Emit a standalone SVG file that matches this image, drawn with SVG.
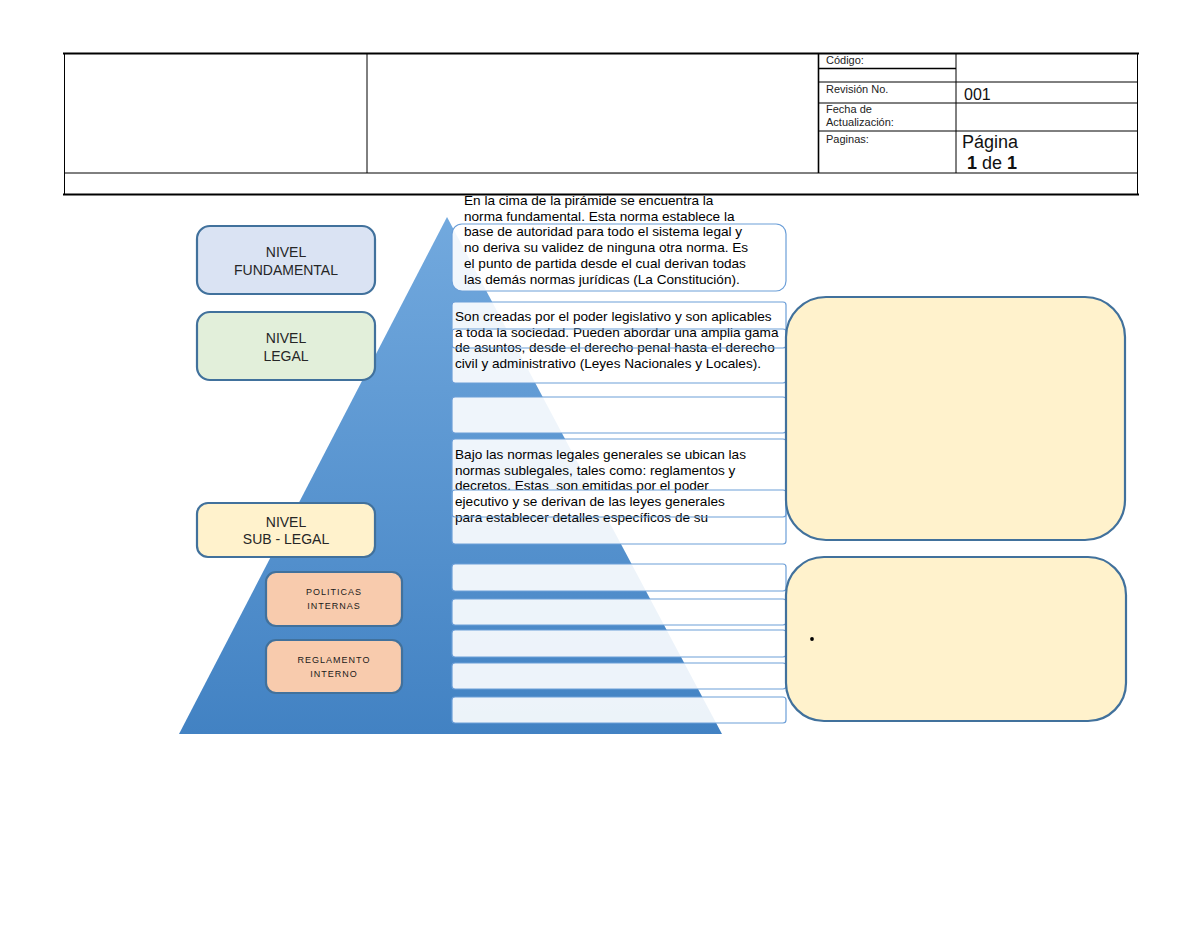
<svg xmlns="http://www.w3.org/2000/svg" width="1200" height="927" viewBox="0 0 1200 927">
<defs>
<linearGradient id="pyr" x1="0" y1="0" x2="0" y2="1">
<stop offset="0" stop-color="#72a9de"/>
<stop offset="1" stop-color="#4282c3"/>
</linearGradient>
<clipPath id="clip4"><rect x="440" y="430" width="360" height="104"/></clipPath>
</defs>
<style>
.hl{stroke:#000;stroke-width:1;fill:none}
.ht{font-family:"Liberation Sans",Arial,sans-serif;font-size:11px;fill:#222}
.hb{font-family:"Liberation Sans",Arial,sans-serif;font-size:16px;fill:#111}
.tb{fill:#ffffff;fill-opacity:0.9;stroke:none}
.tbs{fill:none;stroke:#6c9fd8;stroke-width:1.2}
.bt{font-family:"Liberation Sans",Arial,sans-serif;font-size:13.6px;fill:#000}
.lab{stroke:#41719c;stroke-width:2.2}
.lt{font-family:"Liberation Sans",Arial,sans-serif;font-size:14px;fill:#262626;text-anchor:middle}
.st{font-family:"Liberation Sans",Arial,sans-serif;font-size:9px;fill:#1a1a1a;text-anchor:middle;letter-spacing:1px}
.yb{fill:#fff2cc;stroke:#41719c;stroke-width:2.2}
</style>
<rect width="1200" height="927" fill="#fff"/>
<g id="header">
<rect x="64" y="53" width="1074" height="142" fill="#fff" stroke="none"/>
<line class="hl" x1="63" y1="53.5" x2="1139" y2="53.5" style="stroke-width:2"/>
<line class="hl" x1="63" y1="194.5" x2="1139" y2="194.5" style="stroke-width:2"/>
<line class="hl" x1="64.5" y1="53" x2="64.5" y2="195"/>
<line class="hl" x1="1137.5" y1="53" x2="1137.5" y2="195"/>
<line class="hl" x1="64" y1="173" x2="1138" y2="173"/>
<line class="hl" x1="367" y1="53" x2="367" y2="173"/>
<line class="hl" x1="818.5" y1="53" x2="818.5" y2="173" style="stroke-width:1.6"/>
<line class="hl" x1="956" y1="53" x2="956" y2="173"/>
<line class="hl" x1="818" y1="68.5" x2="956" y2="68.5" style="stroke-width:1.6"/>
<line class="hl" x1="818" y1="82" x2="1138" y2="82"/>
<line class="hl" x1="818" y1="103" x2="1138" y2="103"/>
<line class="hl" x1="818" y1="131" x2="1138" y2="131"/>
<text class="ht" x="826" y="64">Código:</text>
<text class="ht" x="826" y="93">Revisión No.</text>
<text class="ht" x="826" y="113">Fecha de</text>
<text class="ht" x="826" y="126">Actualización:</text>
<text class="ht" x="826" y="143">Paginas:</text>
<text class="hb" x="964" y="100">001</text>
<text class="hb" x="962" y="148" style="font-size:18px">Página</text>
<text class="hb" x="967" y="169" style="font-size:18px"><tspan font-weight="bold">1</tspan> de <tspan font-weight="bold">1</tspan></text>
</g>
<g id="pyramid">
<polygon points="447,217 179,734 722,734" fill="url(#pyr)"/>
</g>
<g id="text-boxes">
<rect class="tb" x="452" y="224" width="334" height="67" rx="10"/>
<rect class="tb" x="452" y="302" width="334" height="46" rx="3"/>
<rect class="tb" x="452" y="329" width="334" height="54" rx="3"/>
<rect class="tb" x="452" y="397" width="334" height="36" rx="3"/>
<rect class="tb" x="452" y="439" width="334" height="78" rx="3"/>
<rect class="tb" x="452" y="490" width="334" height="54" rx="3"/>
<rect class="tb" x="452" y="564" width="334" height="27" rx="3"/>
<rect class="tb" x="452" y="599" width="334" height="26" rx="3"/>
<rect class="tb" x="452" y="630" width="334" height="27" rx="3"/>
<rect class="tb" x="452" y="663" width="334" height="26" rx="3"/>
<rect class="tb" x="452" y="697" width="334" height="26" rx="3"/>
</g>
<g id="box-texts">
<text class="bt" x="464" y="205">En la cima de la pirámide se encuentra la</text>
<text class="bt" x="464" y="220.7">norma fundamental. Esta norma establece la</text>
<text class="bt" x="464" y="236.4">base de autoridad para todo el sistema legal y</text>
<text class="bt" x="464" y="252.1">no deriva su validez de ninguna otra norma. Es</text>
<text class="bt" x="464" y="267.8">el punto de partida desde el cual derivan todas</text>
<text class="bt" x="464" y="283.5">las demás normas jurídicas (La Constitución).</text>
<text class="bt" x="455" y="321">Son creadas por el poder legislativo y son aplicables</text>
<text class="bt" x="455" y="336.7">a toda la sociedad. Pueden abordar una amplia gama</text>
<text class="bt" x="455" y="352.4">de asuntos, desde el derecho penal hasta el derecho</text>
<text class="bt" x="455" y="368.1">civil y administrativo (Leyes Nacionales y Locales).</text>
<g clip-path="url(#clip4)">
<text class="bt" x="455" y="459">Bajo las normas legales generales se ubican las</text>
<text class="bt" x="455" y="474.7">normas sublegales, tales como: reglamentos y</text>
<text class="bt" x="455" y="490.4" xml:space="preserve">decretos. Estas  son emitidas por el poder</text>
<text class="bt" x="455" y="506.1">ejecutivo y se derivan de las leyes generales</text>
<text class="bt" x="455" y="521.8">para establecer detalles específicos de su</text>
</g>
</g>
<g id="text-box-borders">
<rect class="tbs" x="452" y="224" width="334" height="67" rx="10"/>
<rect class="tbs" x="452" y="302" width="334" height="46" rx="3"/>
<rect class="tbs" x="452" y="329" width="334" height="54" rx="3"/>
<rect class="tbs" x="452" y="397" width="334" height="36" rx="3"/>
<rect class="tbs" x="452" y="439" width="334" height="78" rx="3"/>
<rect class="tbs" x="452" y="490" width="334" height="54" rx="3"/>
<rect class="tbs" x="452" y="564" width="334" height="27" rx="3"/>
<rect class="tbs" x="452" y="599" width="334" height="26" rx="3"/>
<rect class="tbs" x="452" y="630" width="334" height="27" rx="3"/>
<rect class="tbs" x="452" y="663" width="334" height="26" rx="3"/>
<rect class="tbs" x="452" y="697" width="334" height="26" rx="3"/>
</g>
<g id="nivel-fundamental">
<rect class="lab" x="197" y="226" width="178" height="68" rx="13" fill="#dae3f3"/>
<text class="lt" x="286" y="257">NIVEL</text>
<text class="lt" x="286" y="275">FUNDAMENTAL</text>
</g>
<g id="nivel-legal">
<rect class="lab" x="197" y="312" width="178" height="68" rx="13" fill="#e2efda"/>
<text class="lt" x="286" y="343">NIVEL</text>
<text class="lt" x="286" y="361">LEGAL</text>
</g>
<g id="nivel-sub-legal">
<rect class="lab" x="197" y="503" width="178" height="54" rx="11" fill="#fff2cc"/>
<text class="lt" x="286" y="527">NIVEL</text>
<text class="lt" x="286" y="544">SUB - LEGAL</text>
</g>
<g id="politicas-internas">
<rect class="lab" x="266" y="572" width="136" height="54" rx="10" fill="#f8cbad"/>
<text class="st" x="334" y="595">POLITICAS</text>
<text class="st" x="334" y="609">INTERNAS</text>
</g>
<g id="reglamento-interno">
<rect class="lab" x="266" y="640" width="136" height="53" rx="10" fill="#f8cbad"/>
<text class="st" x="334" y="663">REGLAMENTO</text>
<text class="st" x="334" y="677">INTERNO</text>
</g>
<g id="right-box-1">
<rect class="yb" x="786" y="297" width="339" height="243" rx="40"/>
</g>
<g id="right-box-2">
<rect class="yb" x="786" y="557" width="340" height="164" rx="38"/>
<circle cx="812" cy="639" r="1.9" fill="#000"/>
</g>
<g id="connectors"/>
</svg>
